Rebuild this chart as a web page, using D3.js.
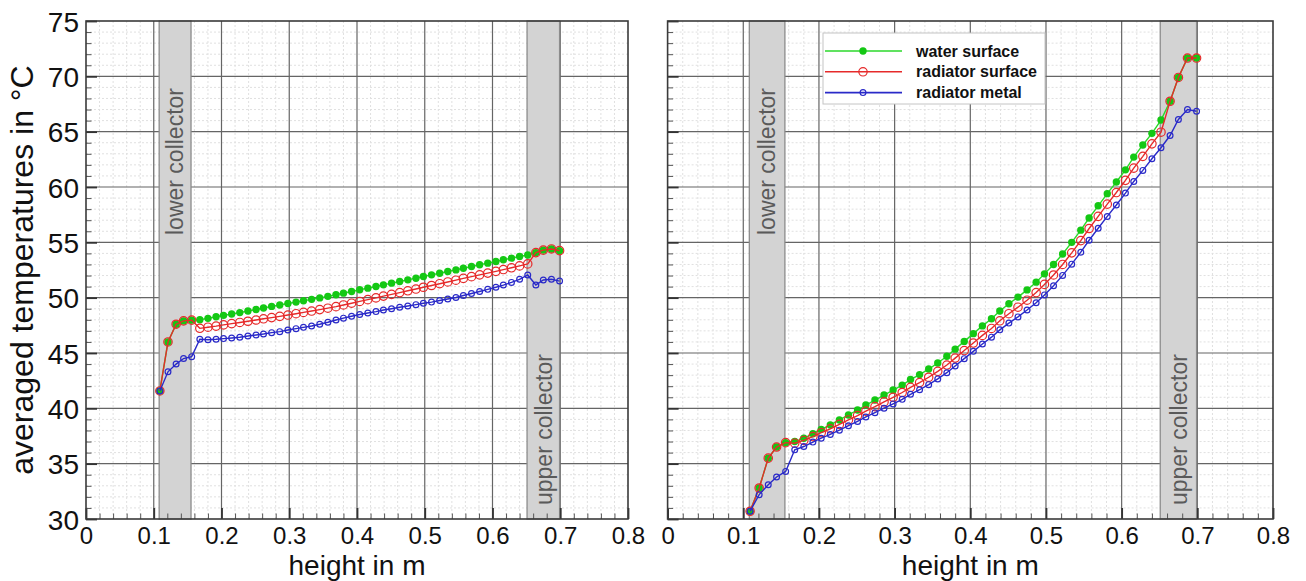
<!DOCTYPE html>
<html>
<head>
<meta charset="utf-8">
<script src="https://cdn.jsdelivr.net/npm/d3@7"></script>
<style>
  html, body { margin: 0; padding: 0; background: #fff; }
  svg { display: block; font-family: "Liberation Sans", Arial, Helvetica, sans-serif; }
</style>
</head>
<body>
<svg id="chart" width="1306" height="581"></svg>
<script>
// Measurement positions along the radiator height (m)
const heights = [
  0.109, 0.121, 0.133, 0.144, 0.156, 0.168, 0.180, 0.192, 0.203, 0.215,
  0.227, 0.239, 0.251, 0.262, 0.274, 0.286, 0.298, 0.310, 0.321, 0.333,
  0.345, 0.357, 0.369, 0.380, 0.392, 0.404, 0.416, 0.428, 0.439, 0.451,
  0.463, 0.475, 0.487, 0.498, 0.510, 0.522, 0.534, 0.546, 0.557, 0.569,
  0.581, 0.593, 0.605, 0.616, 0.628, 0.640, 0.652, 0.664, 0.675, 0.687,
  0.699
];

// Case 1 (left) – averaged temperatures in °C
const leftWater = [
  41.57, 46.0, 47.6, 47.9, 47.97, 48.0, 48.13, 48.27, 48.4, 48.52,
  48.65, 48.8, 48.93, 49.07, 49.21, 49.34, 49.47, 49.6, 49.72, 49.85,
  49.98, 50.12, 50.26, 50.41, 50.56, 50.71, 50.86, 51.01, 51.16, 51.31,
  51.46, 51.61, 51.76, 51.91, 52.06, 52.21, 52.36, 52.51, 52.66, 52.81,
  52.97, 53.12, 53.27, 53.42, 53.57, 53.72, 53.86, 54.07, 54.3, 54.4,
  54.25
];
const leftSurface = [
  41.57, 46.0, 47.6, 47.9, 47.97, 47.23, 47.33, 47.43, 47.54, 47.65,
  47.76, 47.87, 47.98, 48.09, 48.2, 48.31, 48.43, 48.55, 48.67, 48.79,
  48.92, 49.05, 49.19, 49.34, 49.5, 49.66, 49.82, 49.98, 50.14, 50.3,
  50.46, 50.62, 50.78, 50.94, 51.1, 51.26, 51.42, 51.58, 51.74, 51.9,
  52.06, 52.22, 52.38, 52.54, 52.7, 52.87, 53.05, 54.07, 54.3, 54.4,
  54.25
];
const leftMetal = [
  41.57, 43.3, 44.0, 44.5, 44.67, 46.24, 46.2, 46.24, 46.3, 46.36,
  46.42, 46.54, 46.63, 46.72, 46.84, 46.93, 47.08, 47.2, 47.32, 47.44,
  47.6, 47.78, 47.98, 48.15, 48.32, 48.48, 48.62, 48.74, 48.88, 49.0,
  49.13, 49.25, 49.37, 49.49, 49.6, 49.74, 49.88, 50.02, 50.2, 50.38,
  50.56, 50.75, 50.94, 51.14, 51.38, 51.66, 52.05, 51.15, 51.6, 51.66,
  51.5
];

// Case 2 (right) – averaged temperatures in °C
const rightWater = [
  30.7, 32.8, 35.5, 36.5, 36.9, 37.0, 37.3, 37.7, 38.1, 38.5,
  38.95, 39.4, 39.85, 40.3, 40.75, 41.2, 41.65, 42.1, 42.6, 43.05,
  43.55, 44.1, 44.7, 45.35, 46.05, 46.75, 47.45, 48.1, 48.8, 49.45,
  50.05, 50.7, 51.4, 52.15, 53.0, 53.95, 55.0, 56.1, 57.2, 58.3,
  59.4, 60.45, 61.55, 62.7, 63.8, 64.85, 66.05, 67.75, 69.9, 71.65,
  71.65
];
const rightSurface = [
  30.7, 32.8, 35.5, 36.5, 36.9, 36.85, 37.1, 37.45, 37.8, 38.15,
  38.55, 38.95, 39.35, 39.75, 40.15, 40.58, 41.0, 41.43, 41.9, 42.33,
  42.81, 43.34, 43.91, 44.54, 45.22, 45.9, 46.59, 47.22, 47.91, 48.55,
  49.14, 49.77, 50.46, 51.2, 52.05, 53.0, 54.05, 55.15, 56.25, 57.35,
  58.45, 59.5, 60.6, 61.71, 62.77, 63.9, 64.95, 67.75, 69.9, 71.65,
  71.65
];
const rightMetal = [
  30.7, 32.2, 33.1, 33.8, 34.3, 36.25, 36.55, 36.95, 37.3, 37.64,
  38.03, 38.43, 38.82, 39.22, 39.61, 40.01, 40.4, 40.81, 41.27, 41.68,
  42.14, 42.66, 43.22, 43.83, 44.49, 45.15, 45.81, 46.43, 47.09, 47.7,
  48.26, 48.88, 49.54, 50.25, 51.08, 52.01, 53.03, 54.11, 55.19, 56.27,
  57.34, 58.37, 59.45, 60.5, 61.5, 62.55, 63.55, 64.65, 66.1, 67.0,
  66.85
];

// Axis ticks
const xMajorTicks = [0, 0.1, 0.2, 0.3, 0.4, 0.5, 0.6, 0.7, 0.8];
const xTickLabels = ["0", "0.1", "0.2", "0.3", "0.4", "0.5", "0.6", "0.7", "0.8"];
const yMajorTicks = [30, 35, 40, 45, 50, 55, 60, 65, 70, 75];
const yTickLabels = ["30", "35", "40", "45", "50", "55", "60", "65", "70", "75"];

// Collector zones (m)
const collectorNames = ["lower collector", "upper collector"];
const collectorStart = [0.108, 0.651];
const collectorEnd = [0.155, 0.699];

// Series names
const seriesNames = ["water surface", "radiator surface", "radiator metal"];

const COLORS = { water: "#2bd92b", waterDot: "#14c814", surface: "#e62a2a", metal: "#2a2ac8" };

const svg = d3.select("#chart");
svg.append("rect").attr("width", 1306).attr("height", 581).attr("fill", "#fff");

function drawPanel(opt) {
  const x = d3.scaleLinear().domain([0, 0.8]).range([opt.left, opt.right]);
  const y = d3.scaleLinear().domain([30, 75]).range([opt.bottom, opt.top]);
  const g = svg.append("g");

  const xMinor = d3.range(0, 0.8001, 0.02).filter(v => Math.abs(v * 10 - Math.round(v * 10)) > 1e-6);
  const yMinor = d3.range(30, 75.001, 1).filter(v => v % 5 !== 0);

  // minor grid (dashed)
  g.append("g").selectAll("line").data(xMinor).join("line")
    .attr("x1", d => x(d)).attr("x2", d => x(d))
    .attr("y1", opt.top).attr("y2", opt.bottom)
    .attr("stroke", "#e0e0e0").attr("stroke-width", 1).attr("stroke-dasharray", "2,2");
  g.append("g").selectAll("line").data(yMinor).join("line")
    .attr("x1", opt.left).attr("x2", opt.right)
    .attr("y1", d => y(d)).attr("y2", d => y(d))
    .attr("stroke", "#e0e0e0").attr("stroke-width", 1).attr("stroke-dasharray", "2,2");

  // major grid
  g.append("g").selectAll("line").data(xMajorTicks.slice(1, -1)).join("line")
    .attr("x1", d => x(d)).attr("x2", d => x(d))
    .attr("y1", opt.top).attr("y2", opt.bottom)
    .attr("stroke", "#656565").attr("stroke-width", 1.2);
  g.append("g").selectAll("line").data(yMajorTicks.slice(1, -1)).join("line")
    .attr("x1", opt.left).attr("x2", opt.right)
    .attr("y1", d => y(d)).attr("y2", d => y(d))
    .attr("stroke", "#656565").attr("stroke-width", 1.2);

  // collector zones
  const zones = collectorNames.map((n, i) => ({ name: n, a: collectorStart[i], b: collectorEnd[i] }));
  const zg = g.append("g");
  zg.selectAll("rect").data(zones).join("rect")
    .attr("x", d => x(d.a)).attr("width", d => x(d.b) - x(d.a))
    .attr("y", opt.top).attr("height", opt.bottom - opt.top)
    .attr("fill", "#d3d3d3").attr("stroke", "#8c8c8c").attr("stroke-width", 1.3);
  zg.selectAll("text").data(zones).join("text")
    .attr("transform", (d, i) => {
      const cx = (x(d.a) + x(d.b)) / 2;
      const cy = i === 0 ? 88 : 505;
      return `translate(${cx},${cy}) rotate(-90)`;
    })
    .attr("text-anchor", (d, i) => i === 0 ? "end" : "start")
    .attr("dy", "0.36em")
    .attr("font-size", 23).attr("fill", "#5a5a5a")
    .text(d => d.name);

  // axes with inward ticks
  const axX = d3.axisBottom(x).tickValues(xMajorTicks).tickSize(-11).tickPadding(8)
    .tickFormat((d, i) => xTickLabels[i]);
  const axXm = d3.axisBottom(x).tickValues(xMinor).tickSize(-5.5).tickFormat("");
  const axY = d3.axisLeft(y).tickValues(yMajorTicks).tickSize(-11).tickPadding(7)
    .tickFormat((d, i) => opt.yLabels ? yTickLabels[i] : "");
  const axYm = d3.axisLeft(y).tickValues(yMinor).tickSize(-5.5).tickFormat("");

  const gx = g.append("g").attr("transform", `translate(0,${opt.bottom})`).call(axX);
  gx.selectAll("text").attr("font-size", 24).attr("fill", "#111").attr("dy", "0.72em");
  gx.selectAll("line").attr("stroke", "#333").attr("stroke-width", 1.8);
  const gxm = g.append("g").attr("transform", `translate(0,${opt.bottom})`).call(axXm);
  gxm.selectAll("line").attr("stroke", "#555").attr("stroke-width", 1);
  const gy = g.append("g").attr("transform", `translate(${opt.left},0)`).call(axY);
  gy.selectAll("text").attr("font-size", 28).attr("fill", "#111").attr("dy", "0.36em");
  gy.selectAll("line").attr("stroke", "#333").attr("stroke-width", 1.8);
  const gym = g.append("g").attr("transform", `translate(${opt.left},0)`).call(axYm);
  gym.selectAll("line").attr("stroke", "#555").attr("stroke-width", 1);
  [gx, gxm, gy, gym].forEach(a => a.select(".domain").remove());

  // frame
  g.append("rect")
    .attr("x", opt.left).attr("y", opt.top)
    .attr("width", opt.right - opt.left).attr("height", opt.bottom - opt.top)
    .attr("fill", "none").attr("stroke", "#3a3a3a").attr("stroke-width", 1.6);

  // x-axis title
  g.append("text")
    .attr("x", x(0.4)).attr("y", 575)
    .attr("text-anchor", "middle").attr("font-size", 28).attr("fill", "#111")
    .text("height in m");

  // series
  const line = d3.line().x(d => x(d[0])).y(d => y(d[1]));
  const series = [
    { vals: opt.water, color: COLORS.water, kind: "dot" },
    { vals: opt.surface, color: COLORS.surface, kind: "ring" },
    { vals: opt.metal, color: COLORS.metal, kind: "small" }
  ];
  series.forEach(s => {
    const pts = heights.map((h, i) => [h, s.vals[i]]);
    const sg = g.append("g");
    sg.append("path").datum(pts).attr("d", line)
      .attr("fill", "none").attr("stroke", s.color).attr("stroke-width", 1.4);
    const c = sg.selectAll("circle").data(pts).join("circle")
      .attr("cx", d => x(d[0])).attr("cy", d => y(d[1]));
    if (s.kind === "dot") {
      c.attr("r", 3.7).attr("fill", COLORS.waterDot).attr("stroke", "none");
    } else if (s.kind === "ring") {
      c.attr("r", 4.2).attr("fill", "none").attr("stroke", s.color).attr("stroke-width", 1.2);
    } else {
      c.attr("r", 2.9).attr("fill", "none").attr("stroke", s.color).attr("stroke-width", 1.2);
    }
  });
  return { x, y, g };
}

drawPanel({ left: 86, right: 628, top: 21, bottom: 519, yLabels: true,
  water: leftWater, surface: leftSurface, metal: leftMetal });
drawPanel({ left: 667.6, right: 1273, top: 21, bottom: 519, yLabels: false,
  water: rightWater, surface: rightSurface, metal: rightMetal });

// y-axis title
svg.append("text")
  .attr("transform", "translate(33,270) rotate(-90)")
  .attr("text-anchor", "middle").attr("font-size", 32).attr("fill", "#111")
  .text("averaged temperatures in °C");

// legend
const lg = svg.append("g").attr("transform", "translate(823,33)");
lg.append("rect").attr("width", 222).attr("height", 71)
  .attr("fill", "#fff").attr("stroke", "#c4c4c4").attr("stroke-width", 1);
const legendRows = [
  { color: COLORS.water, kind: "dot" },
  { color: COLORS.surface, kind: "ring" },
  { color: COLORS.metal, kind: "small" }
];
legendRows.forEach((r, i) => {
  const yy = 18 + i * 20.8;
  lg.append("line").attr("x1", 2).attr("x2", 79).attr("y1", yy).attr("y2", yy)
    .attr("stroke", r.color).attr("stroke-width", 1.6);
  const c = lg.append("circle").attr("cx", 40).attr("cy", yy);
  if (r.kind === "dot") c.attr("r", 3.7).attr("fill", COLORS.waterDot);
  else if (r.kind === "ring") c.attr("r", 4.2).attr("fill", "none").attr("stroke", r.color).attr("stroke-width", 1.2);
  else c.attr("r", 2.9).attr("fill", "none").attr("stroke", r.color).attr("stroke-width", 1.2);
  lg.append("text").attr("x", 93).attr("y", yy).attr("dy", "0.35em")
    .attr("font-size", 16).attr("font-weight", "bold").attr("fill", "#111")
    .text(seriesNames[i]);
});
</script>
</body>
</html>
